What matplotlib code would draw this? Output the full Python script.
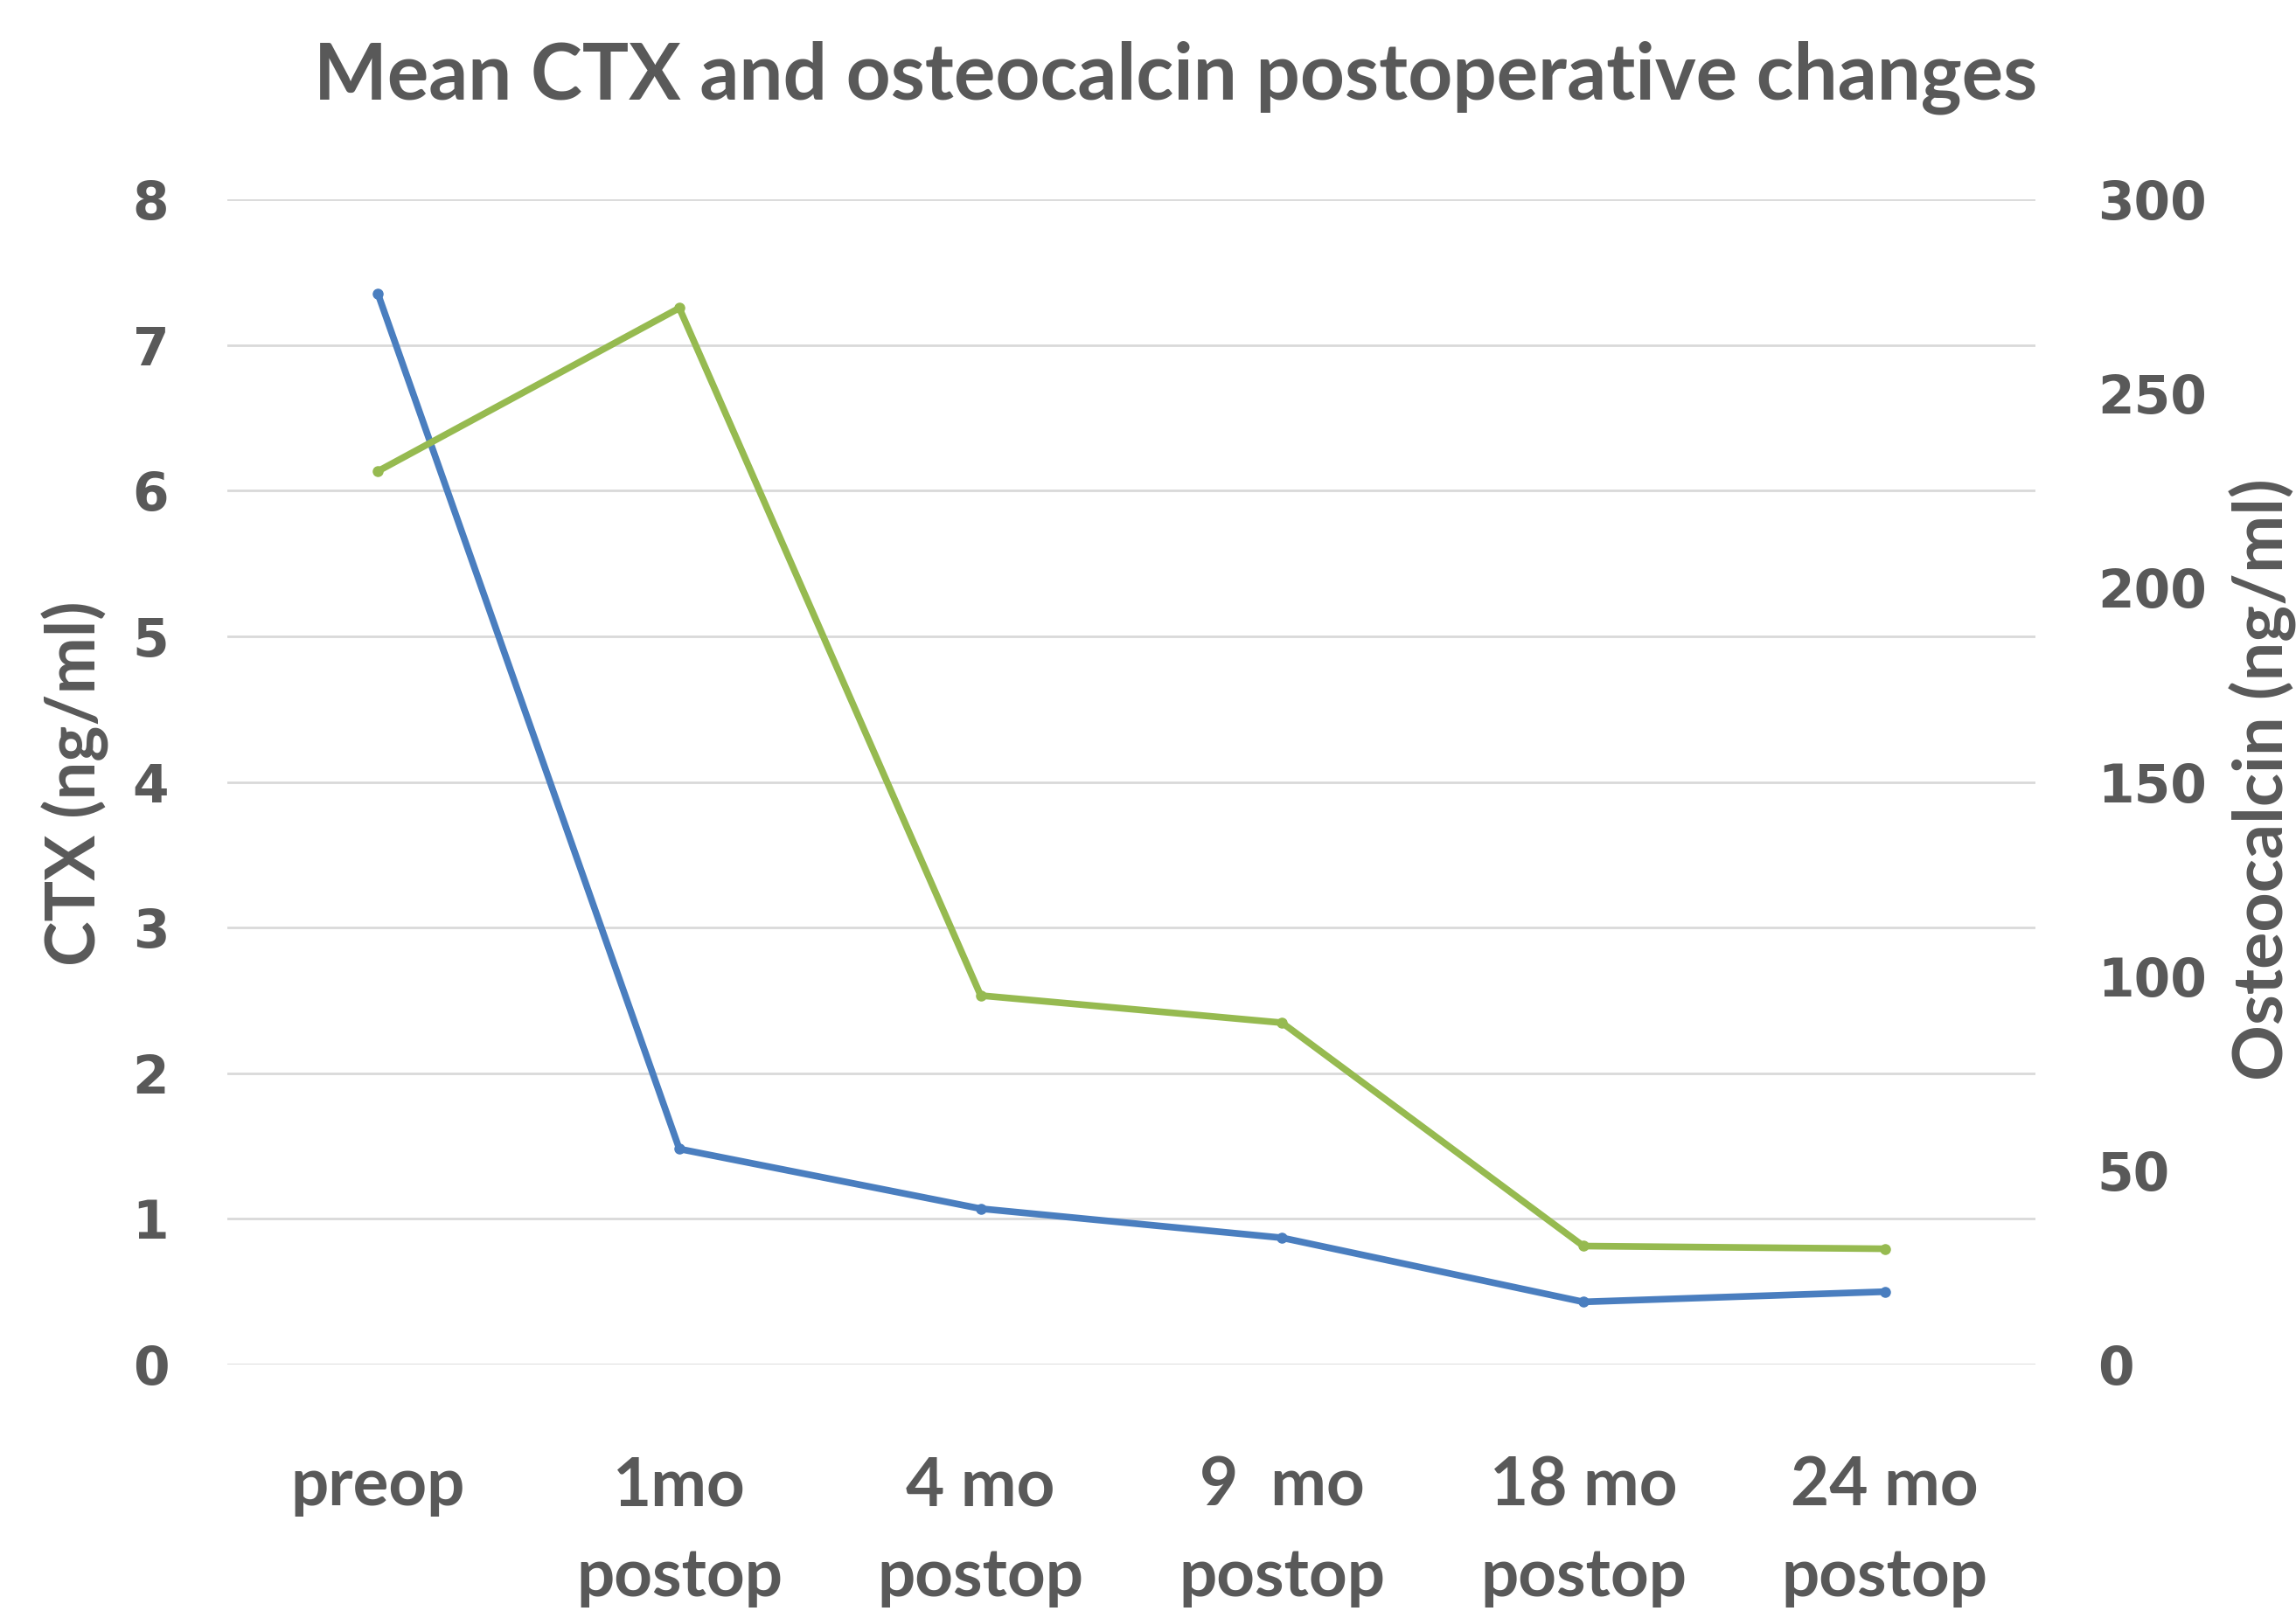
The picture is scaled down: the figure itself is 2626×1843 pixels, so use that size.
import matplotlib
matplotlib.use("Agg")
import matplotlib.pyplot as plt

categories = ["preop", "1mo\npostop", "4 mo\npostop", "9  mo\npostop", "18 mo\npostop", "24 mo\npostop"]
ctx_values = [7.35, 1.48, 1.07, 0.87, 0.43, 0.50]
osteocalcin_values = [230, 272, 95, 88, 30.5, 29.8]
left_ticks = [0, 1, 2, 3, 4, 5, 6, 7, 8]
right_ticks = [0, 50, 100, 150, 200, 250, 300]

TEXT = "#595959"
BLUE = "#4A7EBF"
GREEN = "#96BA50"
GRID = "#D9D9D9"
LABEL_FONT = ["Lato", "DejaVu Sans"]
TICK_FONT = ["DejaVu Sans"]

fig = plt.figure(figsize=(26.26, 18.43), dpi=100)
ax = fig.add_axes([0.099, 0.153, 0.7875, 0.7233])
ax2 = ax.twinx()

x = list(range(len(categories)))
ax.plot(x, ctx_values, color=BLUE, lw=5.5, marker="o", ms=8, solid_joinstyle="round", zorder=3)
ax2.plot(x, osteocalcin_values, color=GREEN, lw=5.5, marker="o", ms=8, solid_joinstyle="round", zorder=3)

ax.set_xlim(-0.5, len(categories) - 0.5)
ax.set_ylim(0, 8)
ax2.set_ylim(0, 300)
ax.set_yticks(left_ticks)
ax2.set_yticks(right_ticks)
ax.set_xticks(x)
ax.set_xticklabels(categories, family=LABEL_FONT, fontweight="bold", fontsize=55,
                   color=TEXT, linespacing=1.6)
ax.set_yticklabels([str(t) for t in left_ticks], family=TICK_FONT, fontweight="bold",
                   fontsize=43, color=TEXT)
ax2.set_yticklabels([str(t) for t in right_ticks], family=TICK_FONT, fontweight="bold",
                    fontsize=43, color=TEXT)

ax.yaxis.grid(True, color=GRID, lw=2)
ax.set_axisbelow(True)
for a in (ax, ax2):
    for s in a.spines.values():
        s.set_visible(False)
ax.tick_params(axis="x", length=0, pad=75)
ax.tick_params(axis="y", length=0, pad=48)
ax2.tick_params(axis="y", length=0, pad=51)

fig.text(0.512, 0.952, "Mean CTX and osteocalcin postoperative changes", ha="center", va="center",
         family=LABEL_FONT, fontweight="bold", fontsize=64, color=TEXT)
fig.text(0.033, 0.514, "CTX (ng/ml)", rotation=90, ha="center", va="center",
         family=LABEL_FONT, fontweight="bold", fontsize=56, color=TEXT)
fig.text(0.9855, 0.516, "Osteocalcin (ng/ml)", rotation=90, ha="center", va="center",
         family=LABEL_FONT, fontweight="bold", fontsize=57, color=TEXT)

fig.savefig("out.png", dpi=100, facecolor="white")
